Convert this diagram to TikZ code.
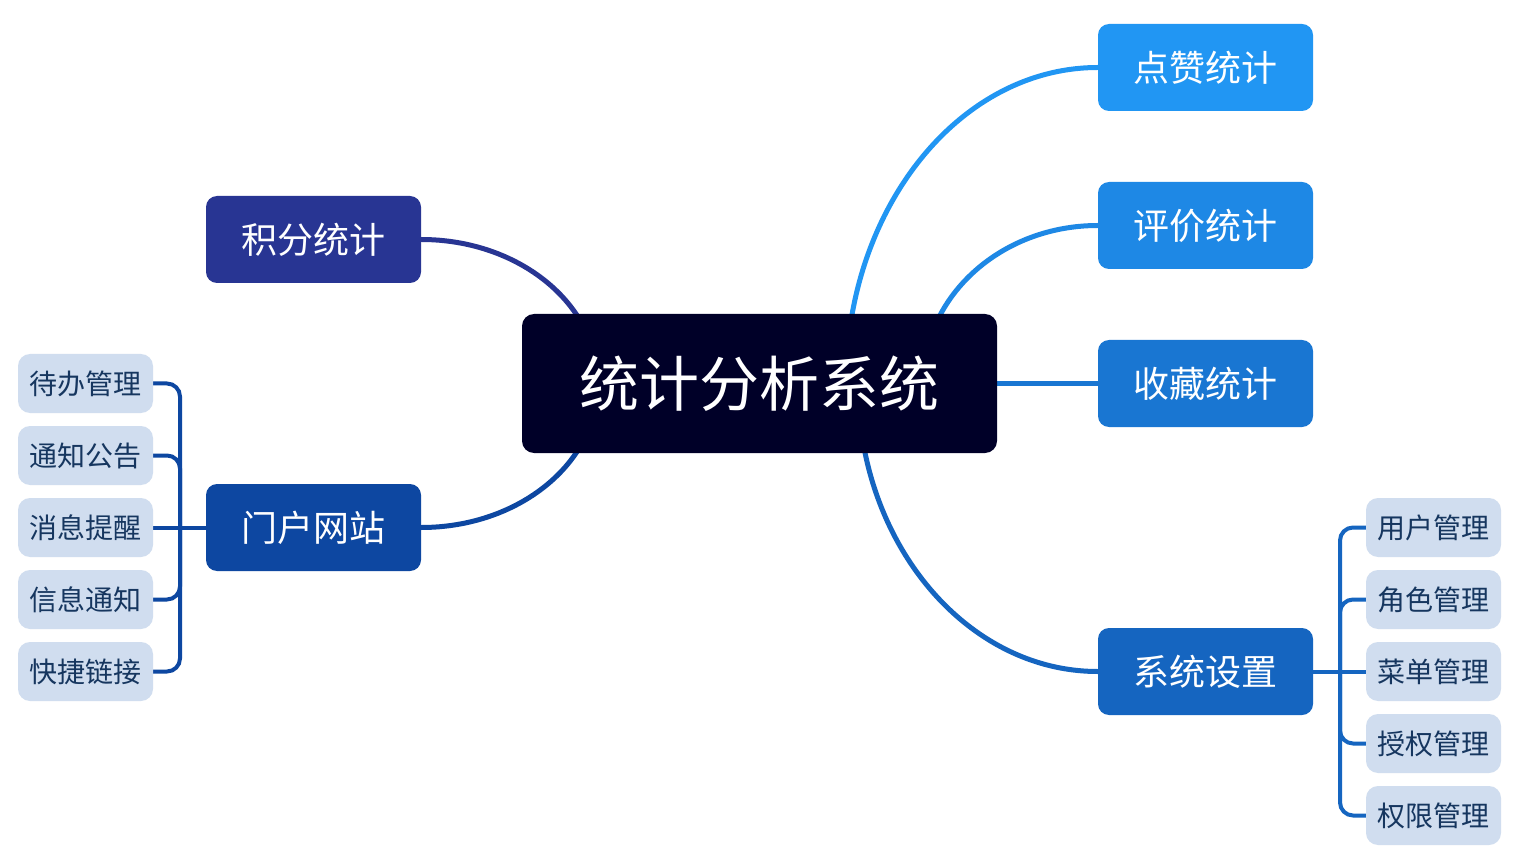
\documentclass[tikz,border=0pt]{standalone}
\usepackage{fontspec}
\setmainfont{Noto Sans CJK SC}
\definecolor{rootc}{HTML}{000028}
\definecolor{jfc}{HTML}{283593}
\definecolor{mhc}{HTML}{0D47A1}
\definecolor{dzc}{HTML}{2196F3}
\definecolor{pjc}{HTML}{1E88E5}
\definecolor{scc}{HTML}{1976D2}
\definecolor{xtc}{HTML}{1565C0}
\definecolor{leaffill}{HTML}{D0DDEF}
\definecolor{leaftext}{HTML}{16365F}
\pgfdeclarelayer{bg}
\pgfdeclarelayer{edges}
\pgfsetlayers{bg,edges,main}
\tikzset{
  rootbox/.style={fill=rootc, rounded corners=12pt, minimum width=475pt, minimum height=139pt, inner sep=0pt, text=white, font=\fontsize{60}{66}\selectfont},
  mainbox/.style={fill=#1, rounded corners=11pt, minimum width=215pt, minimum height=87pt, inner sep=0pt, text=white, font=\fontsize{36}{40}\selectfont},
  leafbox/.style={fill=leaffill, rounded corners=12pt, minimum width=135pt, minimum height=59pt, inner sep=0pt, text=leaftext, font=\fontsize{28}{32}\selectfont},
  curve/.style={draw=#1, line width=5pt},
  bracket/.style={draw=#1, line width=4pt, rounded corners=13pt},
}
\begin{document}
\begin{tikzpicture}[x=1pt,y=-1pt]
\begin{pgfonlayer}{bg}
\fill[white] (0,0) rectangle (1523,866);
\end{pgfonlayer}
\useasboundingbox (0,0) rectangle (1523,866);

\node[rootbox] (root) at (759.5,383.5) {统计分析系统};

\node[mainbox=jfc] (jf) at (313.5,239.5) {积分统计};
\node[mainbox=mhc] (mh) at (313.5,527.5) {门户网站};
\node[mainbox=dzc] (dz) at (1205.5,67.5) {点赞统计};
\node[mainbox=pjc] (pj) at (1205.5,225.5) {评价统计};
\node[mainbox=scc] (sc) at (1205.5,383.5) {收藏统计};
\node[mainbox=xtc] (xt) at (1205.5,671.5) {系统设置};

\node[leafbox] (l1) at (85.5,383.5) {待办管理};
\node[leafbox] (l2) at (85.5,455.5) {通知公告};
\node[leafbox] (l3) at (85.5,527.5) {消息提醒};
\node[leafbox] (l4) at (85.5,599.5) {信息通知};
\node[leafbox] (l5) at (85.5,671.5) {快捷链接};

\node[leafbox] (r1) at (1433.5,527.5) {用户管理};
\node[leafbox] (r2) at (1433.5,599.5) {角色管理};
\node[leafbox] (r3) at (1433.5,671.5) {菜单管理};
\node[leafbox] (r4) at (1433.5,743.5) {授权管理};
\node[leafbox] (r5) at (1433.5,815.5) {权限管理};

\coordinate (eL) at (598,383.5);
\coordinate (eDZ) at (846,383.5);
\coordinate (ePJ) at (923,383.5);
\coordinate (eXT) at (858,383.5);
\coordinate (tl) at (180,527.5);
\coordinate (tr) at (1340,671.5);

\begin{pgfonlayer}{edges}
\draw[curve=jfc] (jf.east) .. controls (519,239.5) and (598,304) .. (eL);
\draw[curve=mhc] (mh.east) .. controls (519,527.5) and (598,463) .. (eL);
\draw[curve=dzc] (dz.west) .. controls (959,67.5) and (846,209) .. (eDZ);
\draw[curve=pjc] (pj.west) .. controls (1001,225.5) and (923,296) .. (ePJ);
\draw[curve=scc] (root.east) -- (sc.west);
\draw[curve=xtc] (xt.west) .. controls (966,671.5) and (858,542.5) .. (eXT);

\draw[bracket=mhc] (mh.west) -- (l3.east);
\foreach \n in {l1,l2,l4,l5}{
  \draw[bracket=mhc] (\n.east) -| (tl);
}
\draw[bracket=xtc] (xt.east) -- (r3.west);
\foreach \n in {r1,r2,r4,r5}{
  \draw[bracket=xtc] (\n.west) -| (tr);
}
\end{pgfonlayer}
\end{tikzpicture}
\end{document}
